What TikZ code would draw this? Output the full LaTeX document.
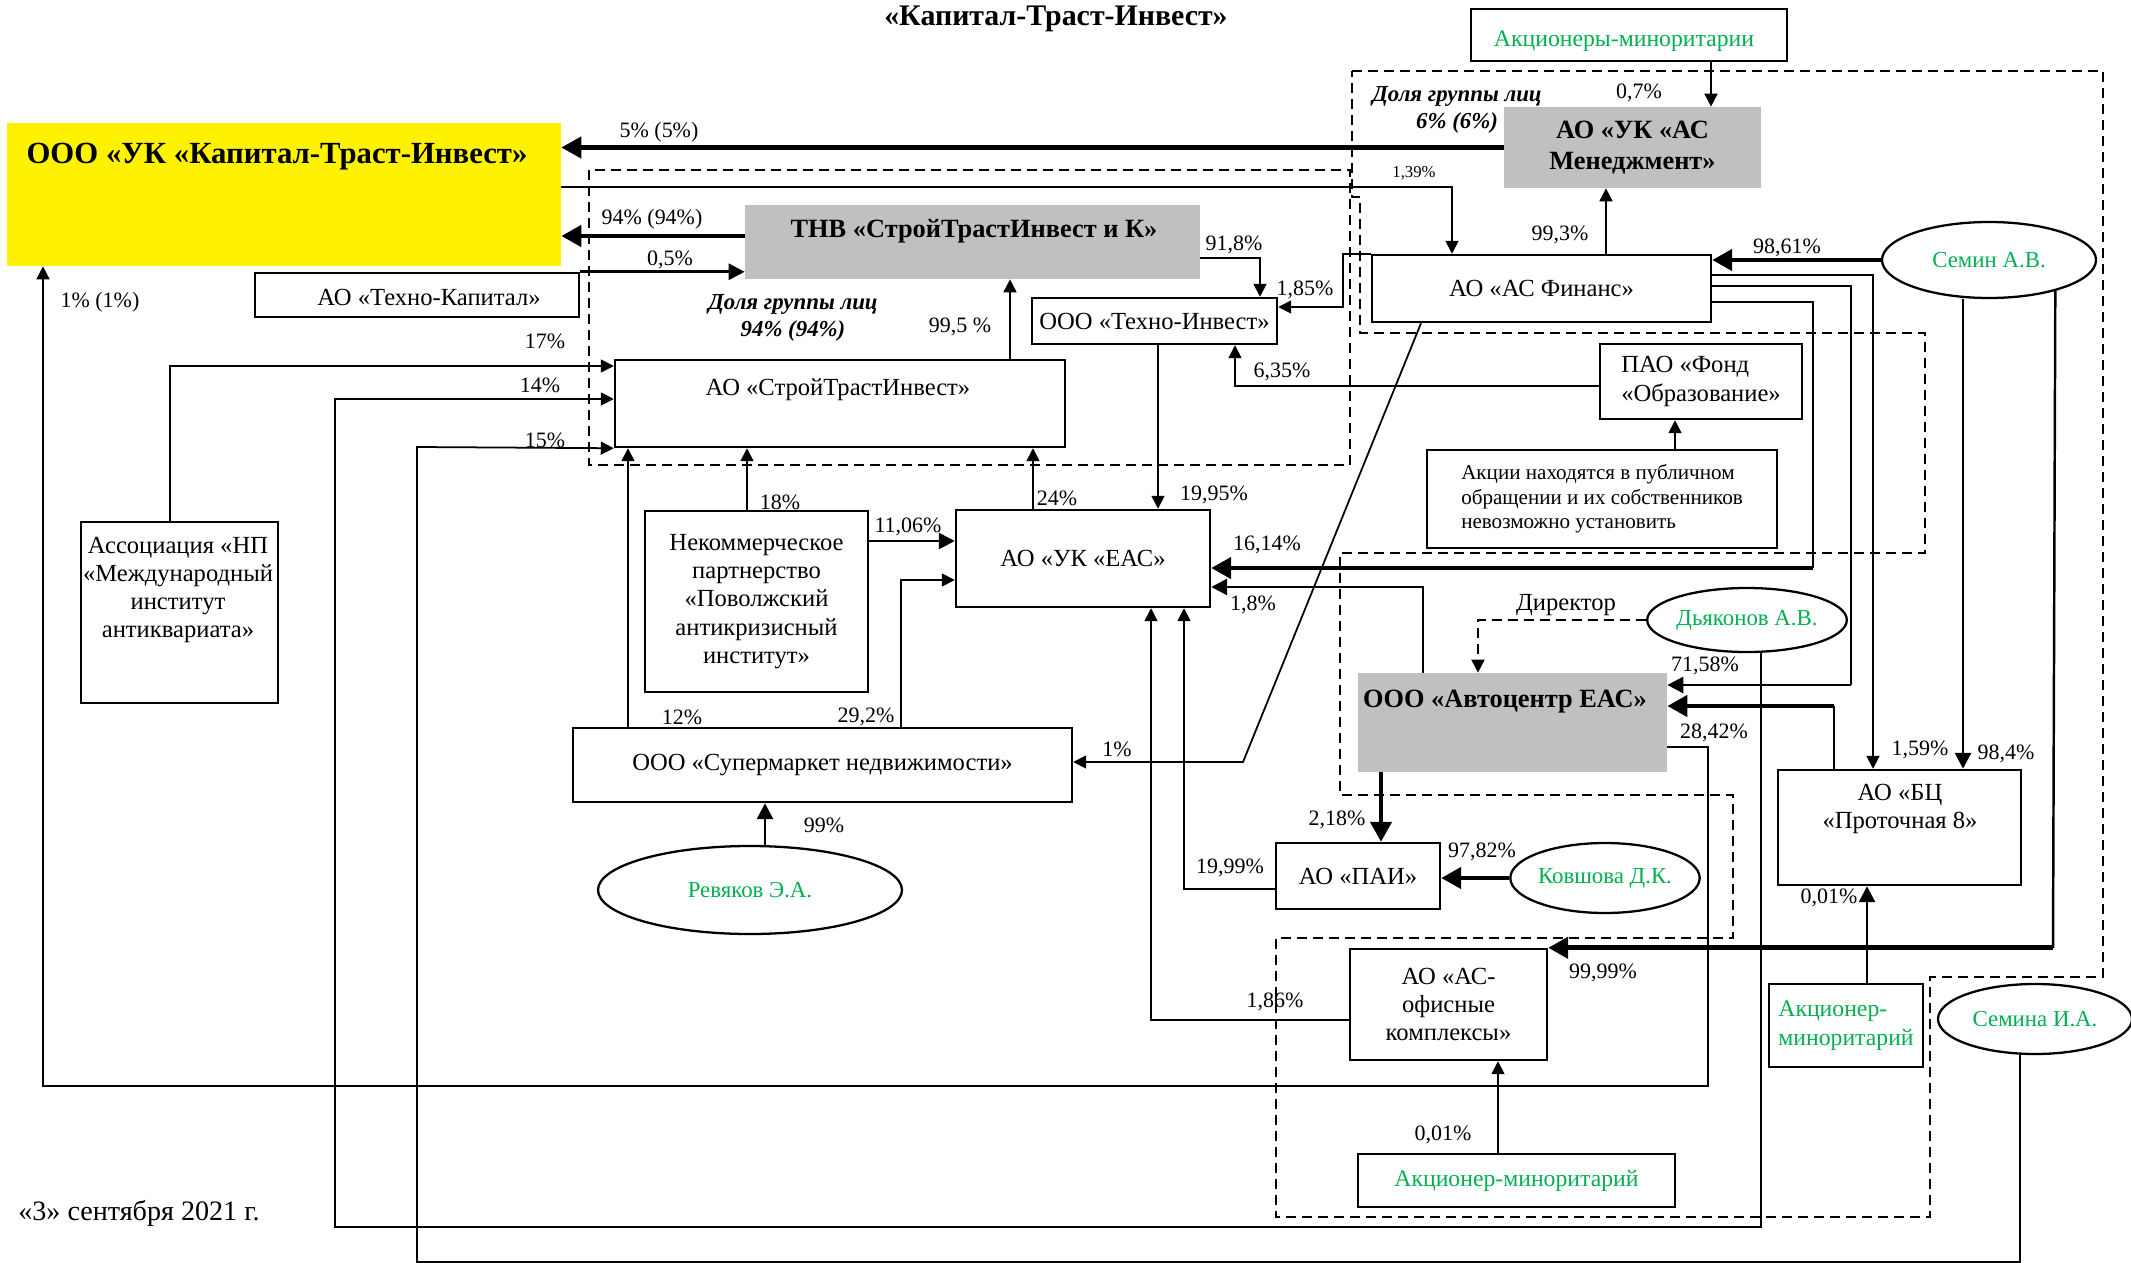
\documentclass[tikz,border=0pt]{standalone}
\usepackage{fontspec}
\setmainfont{Liberation Serif}
\usetikzlibrary{arrows.meta,shapes.geometric}
\definecolor{grn}{RGB}{0,176,80}
\definecolor{gry}{RGB}{192,192,192}
\pgfdeclarelayer{bg}
\pgfsetlayers{bg,main}

\begin{document}
\begin{tikzpicture}[x=0.2mm, y=-0.2mm,
    box/.style 2 args={draw, line width=1.4pt, fill=white, minimum width=#1*0.2mm,
        minimum height=#2*0.2mm, inner sep=0pt, align=center, font=\fontsize{14}{16}\selectfont},
    gbox/.style 2 args={fill=gry, minimum width=#1*0.2mm, minimum height=#2*0.2mm, inner sep=0pt},
    oval/.style 2 args={draw, ellipse, line width=1.3pt, fill=white, minimum width=#1*0.2mm,
        minimum height=#2*0.2mm, inner sep=0pt, text=grn, font=\fontsize{13}{15}\selectfont},
    txt/.style={inner sep=0pt, align=center, font=\fontsize{14}{16}\selectfont},
    bld/.style={inner sep=0pt, align=center, font=\fontsize{15}{17}\selectfont\bfseries},
    pct/.style={inner sep=0pt, font=\fontsize{12.5}{14}\selectfont},
    ln/.style={line width=1pt},
    thn/.style={line width=1pt, -{Triangle[length=2.6mm,width=2.6mm]}},
    med/.style={line width=1.6pt, -{Triangle[length=3.2mm,width=3.2mm]}},
    thk/.style={line width=2.6pt, -{Triangle[length=4mm,width=4.2mm]}},
    grp/.style={line width=1.2pt, dash pattern=on 2mm off 1.2mm}]
    \useasboundingbox (0,0) rectangle (2131,1263);

    \node[bld, font=\fontsize{17}{19}\selectfont\bfseries] (title) at (1056,19) {«Капитал-Траст-Инвест»};

    % boxes
    \node[gbox={554}{143}, fill=yellow] (ukkti) at (284,194.5) {};
    \node[bld, font=\fontsize{17.5}{19}\selectfont\bfseries] (ukkti-t) at (277,157) {ООО «УК «Капитал-Траст-Инвест»};
    \node[gbox={455}{74}] (tnv) at (972.5,242) {};
    \node[bld] (tnv-t) at (974,231) {ТНВ «СтройТрастИнвест и К»};
    \node[box={324}{44}] (tkap) at (417,295) {};
    \node[txt] (tkap-t) at (429,297) {АО «Техно-Капитал»};
    \node[gbox={257}{81}, bld, font=\fontsize{15}{17.5}\selectfont\bfseries] (asm) at (1632.5,147.5) {АО «УК «АС\\Менеджмент»};
    \node[box={316}{52}] (akm) at (1629,35) {};
    \node[txt, text=grn, font=\fontsize{13.5}{15}\selectfont] (akm-t) at (1624,41) {Акционеры-миноритарии};
    \node[box={339}{67}] (asf) at (1541.5,288.5) {АО «АС Финанс»};
    \node[box={245}{46}] (tinv) at (1154.5,321) {ООО «Техно-Инвест»};
    \node[oval={214}{76}] (semin) at (1989,260) {Семин А.В.};
    \node[box={450}{87}] (sti) at (840,403.5) {};
    \node[txt] (sti-t) at (838,390) {АО «СтройТрастИнвест»};
    \node[box={202}{75}, align=left] (pfond) at (1701,381.5) {ПАО «Фонд\\«Образование»};
    \node[box={350}{98}, align=left, font=\fontsize{12}{14}\selectfont] (akcii) at (1602,499)
        {Акции находятся в публичном\\обращении и их собственников\\невозможно установить};
    \node[box={197}{181}] (assoc) at (179.5,612.5) {};
    \node[txt] (assoc-t) at (178,590) {Ассоциация «НП\\«Международный\\институт\\антиквариата»};
    \node[box={223}{181}] (nkp) at (756.5,601.5) {Некоммерческое\\партнерство\\«Поволжский\\антикризисный\\институт»};
    \node[box={254}{97}] (ukeas) at (1083,558.5) {АО «УК «ЕАС»};
    \node[box={499}{74}] (super) at (822.5,765) {ООО «Супермаркет недвижимости»};
    \node[oval={304}{88}] (revyak) at (750,890) {Ревяков Э.А.};
    \node[oval={195}{64}] (dyak) at (1747,620) {Дьяконов А.В.};
    \node[gbox={309}{99}] (avtoc) at (1512.5,722.5) {};
    \node[bld] (avtoc-t) at (1505,702) {ООО «Автоцентр ЕАС»};
    \node[box={164}{66}] (pai) at (1358,876) {АО «ПАИ»};
    \node[oval={182}{70}] (kovsh) at (1605,878) {Ковшова Д.К.};
    \node[box={197}{111}] (asof) at (1448.5,1004.5) {АО «АС-\\офисные\\комплексы»};
    \node[box={317}{53}, text=grn, font=\fontsize{13.5}{15}\selectfont] (akmin1) at (1516.5,1180.5) {Акционер-миноритарий};
    \node[box={154}{83}, text=grn, align=left, font=\fontsize{13.5}{16.5}\selectfont] (akmin2) at (1846,1025.5) {Акционер-\\миноритарий};
    \node[box={243}{115}] (bc) at (1899.5,827.5) {};
    \node[txt] (bc-t) at (1900,809) {АО «БЦ\\«Проточная 8»};
    \node[oval={194}{70}] (semina) at (2035,1019) {Семина И.А.};

    \node[txt, font=\fontsize{13}{15.5}\selectfont\bfseries\itshape] (grp1) at (793,318) {Доля группы лиц\\94\% (94\%)};
    \node[txt, font=\fontsize{13}{15.5}\selectfont\bfseries\itshape] (grp2) at (1457,110) {Доля группы лиц\\6\% (6\%)};
    \node[txt, font=\fontsize{16}{18}\selectfont] (date) at (139,1213) {«3» сентября 2021 г.};

    % shares
    \node[pct] (p5) at (659,132) {5\% (5\%)};
    \node[pct, font=\fontsize{9.5}{11}\selectfont] (p139) at (1414,173) {1,39\%};
    \node[pct] (p94) at (652,219) {94\% (94\%)};
    \node[pct] (p05) at (670,260) {0,5\%};
    \node[pct] (p995) at (960,327) {99,5 \%};
    \node[pct] (p918) at (1234,245) {91,8\%};
    \node[pct] (p185) at (1305,290) {1,85\%};
    \node[pct] (p07) at (1639,93) {0,7\%};
    \node[pct] (p993) at (1560,235) {99,3\%};
    \node[pct] (p9861) at (1787,248) {98,61\%};
    \node[pct] (p1pc) at (100,302) {1\% (1\%)};
    \node[pct] (p17) at (545,341) {17\%};
    \node[pct] (p14) at (540,385) {14\%};
    \node[pct] (p15) at (545,440) {15\%};
    \node[pct] (p18) at (780,502) {18\%};
    \node[pct] (p1106) at (908,527) {11,06\%};
    \node[pct] (p24) at (1057,498) {24\%};
    \node[pct] (p1995) at (1214,495) {19,95\%};
    \node[pct] (p635) at (1282,372) {6,35\%};
    \node[pct] (p1614) at (1267,545) {16,14\%};
    \node[pct] (p18b) at (1253,605) {1,8\%};
    \node[txt] (dir) at (1566,605) {Директор};
    \node[pct] (p1) at (1117,749) {1\%};
    \node[pct] (p12) at (682,717) {12\%};
    \node[pct] (p292) at (866,717) {29,2\%};
    \node[pct] (p99) at (824,825) {99\%};
    \node[pct] (p7158) at (1705,666) {71,58\%};
    \node[pct] (p2842) at (1714,733) {28,42\%};
    \node[pct] (p159) at (1920,750) {1,59\%};
    \node[pct] (p984) at (2006,754) {98,4\%};
    \node[pct] (p218) at (1337,820) {2,18\%};
    \node[pct] (p9782) at (1482,852) {97,82\%};
    \node[pct] (p1999) at (1230,868) {19,99\%};
    \node[pct] (p001a) at (1829,898) {0,01\%};
    \node[pct] (p9999) at (1603,973) {99,99\%};
    \node[pct] (p186) at (1275,1002) {1,86\%};
    \node[pct] (p001b) at (1443,1135) {0,01\%};

    \begin{pgfonlayer}{bg}
    % groups
    \draw[grp] (589,170) rectangle (1350,465);
    \draw[grp] (1352,71) -- (2103,71) -- (2103,977) -- (1930,977) -- (1930,1217) -- (1276,1217)
        -- (1276,938) -- (1733,938) -- (1733,795) -- (1340,795) -- (1340,553) -- (1925,553)
        -- (1925,333) -- (1360,333) -- (1360,197) -- (1352,197) -- cycle;

    \draw[thk] (asm.west) -- (asm.west -| ukkti.east);
    \draw[thn] (ukkti.east |- 0,187) -| (1452,0 |- asf.north);
    \draw[thk] (tnv.west |- 0,236) -- (ukkti.east |- 0,236);
    \draw[med] (tkap.north east) -- (tkap.north east -| tnv.west);
    \draw[thn] (sti.north -| 1010,0) -- (tnv.south -| 1010,0);
    \draw[thn] (tnv.east |- 0,258) -| (1260,0 |- tinv.north);
    \draw[thn] (asf.north west) -- (1343,0 |- asf.north) |- (tinv.east |- 0,307);
    \draw[thn] (akm.south -| 1711,0) -- (asm.north -| 1711,0);
    \draw[thn] (asf.north -| 1606,0) -- (asm.south -| 1606,0);
    \draw[thk] (semin.west) -- (semin.west -| asf.east);
    \draw[thn] (asf.east |- 0,275) -| (1873,0 |- bc.north);
    \draw[ln] (asf.east |- 0,286) -| (1851,685);
    \draw[med] (1851,685) -- (avtoc.east |- 0,685);
    \draw[ln] (asf.east |- 0,302) -| (1813,568);
    \draw[thk] (1813,568) -- (ukeas.east |- 0,568);
    \draw[med] (semin.south -| 1963,0) -- (bc.north -| 1963,0);
    \draw[ln, line width=1.4pt] (semin.-25) -- (2053,0 |- asof.north);
    \draw[thk] (2053,0 |- asof.north) -- (asof.north east);
    \draw[thn] (asf.south -| 1421,0) -- (1243,762) -- (super.east |- 0,762);
    \draw[med] (akmin2.north -| 1867,0) -- (bc.south -| 1867,0);
    \draw[thn] (avtoc.east |- 0,747) -| (1708,1086) -| (ukkti.south -| 43,0);
    \draw[ln] (bc.north -| 1834,0) -- (1834,706);
    \draw[thk] (1834,706) -- (avtoc.east |- 0,706);
    \draw[grp, -{Triangle[length=2.6mm,width=2.6mm]}] (dyak.west) -| (avtoc.north -| 1478,0);
    \draw[med] (avtoc.north -| 1423,0) |- (ukeas.east |- 0,587);
    \draw[thk] (avtoc.south -| 1381,0) -- (pai.north -| 1381,0);
    \draw[thk] (kovsh.west) -- (kovsh.west -| pai.east);
    \draw[thn] (pai.west |- 0,889) -| (ukeas.south -| 1184,0);
    \draw[thn] (asof.west |- 0,1020) -| (ukeas.south -| 1151,0);
    \draw[thn] (akmin1.north -| 1498,0) -- (asof.south -| 1498,0);
    \draw[thn] (dyak.south -| 1761,0) -- (1761,1227) -| (335,399) -- (sti.west |- 0,399);
    \draw[thn] (semina.south -| 2020,0) -- (2020,1262) -| (417,447) -- (sti.south west);
    \draw[thn] (assoc.north -| 170,0) |- (sti.west |- 0,366);
    \draw[thn] (nkp.north -| 747,0) -- (sti.south -| 747,0);
    \draw[med] (nkp.east |- 0,541) -- (ukeas.west |- 0,541);
    \draw[thn] (super.north -| 628,0) -- (sti.south -| 628,0);
    \draw[thn] (super.north -| 901,0) |- (ukeas.west |- 0,580);
    \draw[thn] (ukeas.north -| 1033,0) -- (sti.south -| 1033,0);
    \draw[thn] (tinv.south -| 1158,0) -- (ukeas.north -| 1158,0);
    \draw[thn] (pfond.west |- 0,386) -| (tinv.south -| 1235,0);
    \draw[thn] (akcii.north -| 1675,0) -- (pfond.south -| 1675,0);
    \draw[med] (revyak.north -| 765,0) -- (super.south -| 765,0);
    \end{pgfonlayer}
\end{tikzpicture}
\end{document}
